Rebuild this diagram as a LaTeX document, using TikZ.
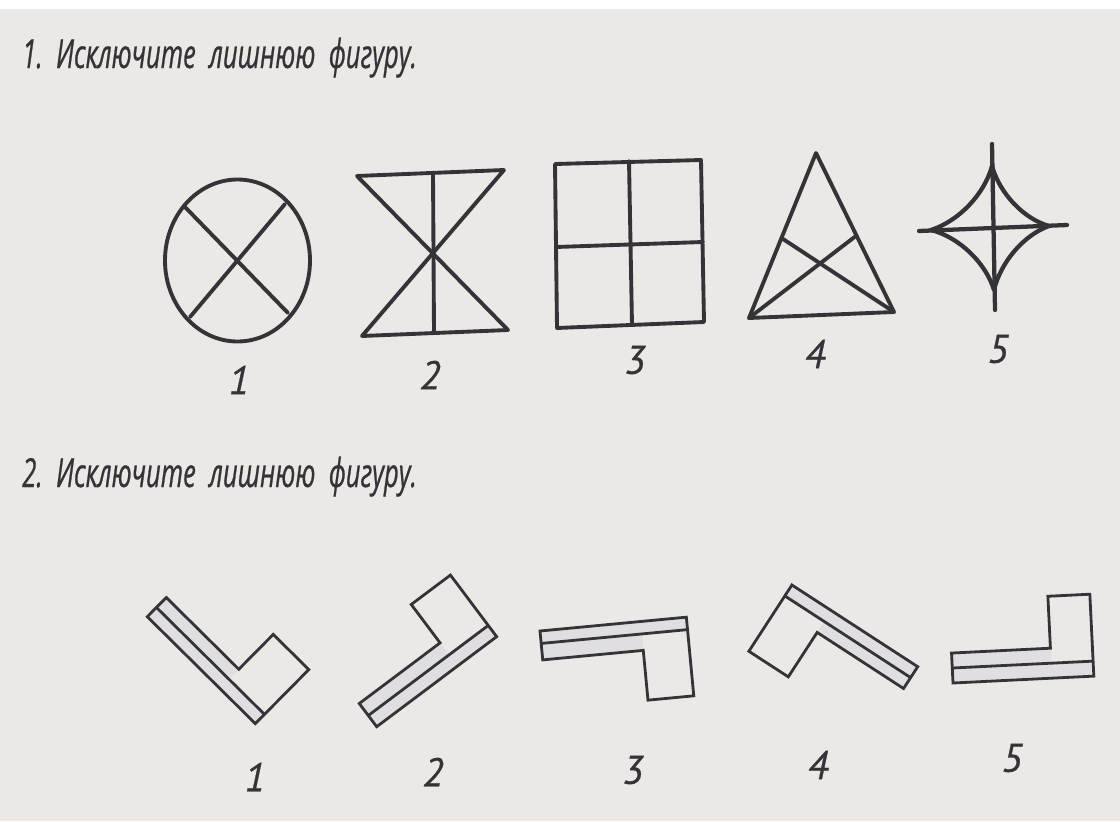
\documentclass[tikz,border=0pt]{standalone}
\usepackage{fontspec}
\usepackage{graphicx}
\newfontfamily\ptfont[FakeBold=0.6]{PT Sans}
\newfontfamily\ttlfont[FakeStretch=0.64,FakeBold=0.6]{Open Sans}
\definecolor{paper}{RGB}{235,232,230}
\definecolor{ink}{RGB}{52,52,56}
\definecolor{stripc}{RGB}{224,222,225}
\tikzset{
  fig/.style={draw=ink, line width=2.9pt, line cap=round, line join=round},
  starln/.style={draw=ink, line width=3.2pt, line cap=round, line join=round},
  lbar/.style={draw=ink, line width=2.1pt, line join=miter},
  stripfill/.style={fill=stripc},
  num/.style={text=ink, font=\ptfont\itshape\fontsize{30}{30}\selectfont, inner sep=0pt, anchor=center},
  titletext/.style={text=ink, font=\ttlfont\itshape\fontsize{30}{30}\selectfont, inner sep=0pt, anchor=base west}
}
\newcommand{\lbarshape}[5]{%
  \fill[stripfill] (0,0) rectangle (#1,#3);
  \fill[stripfill] (0,#3) rectangle ({#1-#4},#2);
  \draw[lbar] (0,0) -- (#1,0) -- (#1,#5) -- ({#1-#4},#5) -- ({#1-#4},#2) -- (0,#2) -- cycle;
  \draw[lbar] (0,#3) -- (#1,#3);
}
\begin{document}
\begin{tikzpicture}[x=0.75pt,y=-0.75pt]
\fill[paper] (0,0) rectangle (1120,821);
\fill[white] (0,0) rectangle (1120,9);
\useasboundingbox (0,0) rectangle (1120,821);

% titles
\node[titletext] (t1) at (22,68) {1.\ \ Исключите\ \ лишнюю\ \ фигуру.};
\node[titletext] (t2) at (22,487) {2.\ \ Исключите\ \ лишнюю\ \ фигуру.};

% ---- row 1 ----
\draw[fig] (237.5,260.5) ellipse [x radius=72.5, y radius=81];
\draw[fig] (185,207) -- (288,313);
\draw[fig] (285,204) -- (190,317);
\draw[fig] (357,176) -- (504,170) -- (362,336) -- (508,330) -- cycle;
\draw[fig] (433,173) -- (434,333);
\draw[fig] (555,164) -- (701,160) -- (704,322) -- (557,328) -- cycle;
\draw[fig] (556,247) -- (703,242);
\draw[fig] (629,161) -- (632,325);
\draw[fig] (816,153) -- (894,312) -- (749,318) -- cycle;
\draw[fig] (749,318) -- (856.5,235.5);
\draw[fig] (894,312) -- (781.5,238);
\begin{scope}[shift={(993,228)}]
  \draw[starln] (-62,2) .. controls (-34.2,-7) and (-8.6,-33.8) .. (-1,-62)
                       .. controls (6.7,-34.4) and (30.7,-9.2) .. (56,-2)
                       .. controls (30.9,7) and (7.8,33.8) .. (1,62)
                       .. controls (-7.5,34.4) and (-34,9.2) .. (-62,2);
  \draw[starln] (-1,-84) -- (2,82);
  \draw[starln] (-74,3) -- (74,-3);
\end{scope}

\node[num] (a1) at (239,380) {1};
\node[num] (a2) at (430,375) {2};
\node[num] (a3) at (635,360) {3};
\node[num] (a4) at (815,354) {4};
\node[num] (a5) at (998,349) {5};

% ---- row 2 ----
\begin{scope}[shift={(147.3,616.7)}, rotate=-44.7, yscale=-1]
  \lbarshape{152}{27}{13}{50}{76}
\end{scope}
\begin{scope}[shift={(376.7,726.7)}, rotate=36.9, yscale=-1]
  \lbarshape{150}{29}{14}{49}{77}
\end{scope}
\begin{scope}[shift={(540,631)}, rotate=5.4]
  \lbarshape{147}{29}{12.5}{46}{79}
\end{scope}
\begin{scope}[shift={(917.7,666.7)}, rotate=147, yscale=-1]
  \lbarshape{150}{26}{13}{47}{79}
\end{scope}
\begin{scope}[shift={(953,683)}, rotate=2.8, yscale=-1]
  \lbarshape{141}{30}{15}{42}{82}
\end{scope}

\node[num] (b1) at (255,777) {1};
\node[num] (b2) at (433,772) {2};
\node[num] (b3) at (633,770) {3};
\node[num] (b4) at (818,765) {4};
\node[num] (b5) at (1012,758) {5};
\end{tikzpicture}
\end{document}
